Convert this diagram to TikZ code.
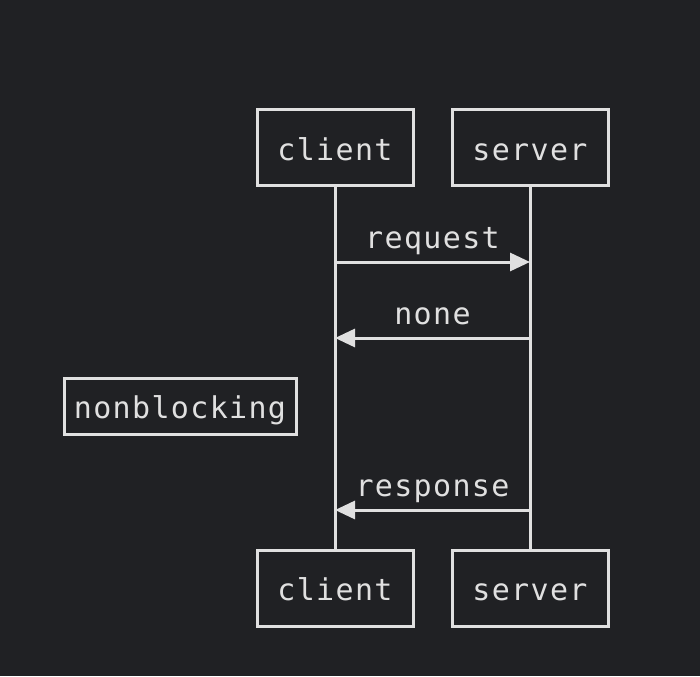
\documentclass[tikz,border=0pt]{standalone}
\usepackage{fontspec}
\setmonofont[LetterSpace=4.5]{DejaVu Sans Mono}
\usetikzlibrary{arrows.meta}
\definecolor{bg}{HTML}{202124}
\definecolor{fg}{HTML}{E0E0E0}
\begin{document}
\begin{tikzpicture}[x=1pt,y=-1pt,
  txt/.style={text=fg,font=\ttfamily\fontsize{30}{32}\selectfont,text height=25pt,text depth=0pt},
  actor/.style={txt,draw=fg,line width=3pt,fill=bg,minimum width=156pt,minimum height=76pt,inner sep=0pt},
  notebox/.style={txt,draw=fg,line width=3pt,fill=bg,minimum width=232pt,minimum height=56pt,inner sep=0pt},
  life/.style={draw=fg,line width=3pt},
  msg/.style={draw=fg,line width=3pt,-{Triangle[length=20pt,width=18pt]}},
  lbl/.style={txt,inner sep=0pt}]
\fill[bg] (0,0) rectangle (700,676);
\useasboundingbox (0,0) rectangle (700,676);
% lifelines
\coordinate (c1) at (335,186);
\coordinate (c2) at (335,550);
\coordinate (s1) at (530,186);
\coordinate (s2) at (530,550);
\draw[life] (c1) -- (c2);
\draw[life] (s1) -- (s2);
\node[actor] (ct) at (335,148) {client};
\node[actor] (st) at (530,148) {server};
\node[actor] (cb) at (335,588) {client};
\node[actor] (sb) at (530,588) {server};
\node[notebox] (nb) at (180,406) {nonblocking};
% messages
\coordinate (m1a) at (335,262);
\coordinate (m1b) at (530,262);
\coordinate (m2a) at (530,338);
\coordinate (m2b) at (335,338);
\coordinate (m3a) at (530,510);
\coordinate (m3b) at (335,510);
\draw[msg] (m1a) -- (m1b);
\draw[msg] (m2a) -- (m2b);
\draw[msg] (m3a) -- (m3b);
\node[lbl] (l1) at (432.5,235.5) {request};
\node[lbl] (l2) at (432.5,312) {none};
\node[lbl] (l3) at (432.5,484) {response};
\end{tikzpicture}
\end{document}
